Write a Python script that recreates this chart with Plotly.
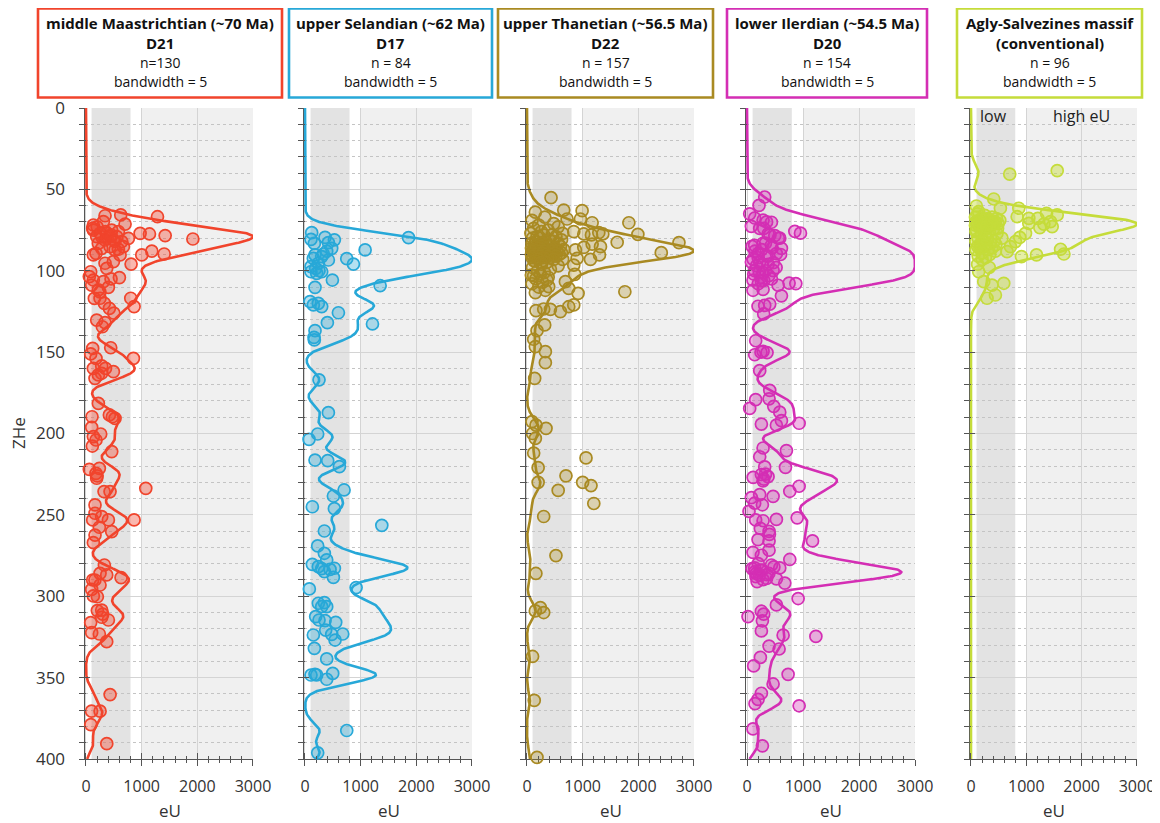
import numpy as np
import plotly.graph_objects as go

# ---- data: eU (x) and ZHe age in Ma (y) ----
# D21 middle Maastrichtian
eu_d21 = [1284, 624, 342, 132, 132, 312, 702, 462, 372, 252, 972, 1140, 1422, 1920, 762, 552, 642, 492, 222, 432,
          582, 672, 180, 132, 282, 1002, 1182, 1404, 492, 342, 810, 372, 84, 60, 132, 600, 312, 102, 402, 222,
          252, 804, 864, 420, 192, 342, 294, 120, 444,
          432, 582, 342, 612, 522, 192,
          84, 852, 180, 132, 282, 492, 222, 162, 222, 108, 420, 522, 474, 102, 132, 264, 180, 114, 462, 60,
          240, 180, 192, 1074, 324, 432, 162, 162, 282, 120, 402, 864, 240, 462, 162, 132, 330, 372, 252, 630,
          120, 252, 102, 204, 132, 282, 204, 402, 282, 84, 102, 240, 372,
          433, 100, 253, 87, 373,
          120, 200, 350, 450, 280, 380, 520,
          350, 280, 250, 150, 330, 500, 450, 200, 160, 300]
zhe_d21 = [66.8, 65.7, 66.2, 71.9, 75, 69.8, 71.3, 75, 77, 77, 77, 77.4, 78.4, 80.5, 80.1, 79, 82.1, 81.1, 83.2, 85.2,
           86.8, 85.2, 89.3, 90.3, 86.2, 90.3, 87.9, 89.7, 94.4, 95.4, 95.9, 98.5, 100.6, 103.6, 105.7, 104.2, 106.7, 108.8, 110.2, 111.8,
           116.9, 116.9, 122, 123.1, 130.3, 131.9, 134.4, 147.7, 147.3,
           79, 75.9, 81.1, 90.3, 87.2, 79,
           151.1, 153.8, 153.8, 160, 158.5, 162, 164, 166.1, 181.5, 189.7, 188.6, 190.7, 189.7, 196.2, 201.9, 200.3, 204, 207.7, 211.1, 222,
           221.4, 224.5, 227.5, 233.7, 235.7, 235.7, 243.9, 249, 251.1, 253.1, 253.1, 253.1, 257.6, 260.3, 262.4, 267.1, 280.8, 286.9, 285.9, 288.6,
           290, 293.1, 295.8, 300.3, 299.8, 308.5, 308.8, 314.6, 312.9, 316.2, 322.4, 323.2, 327.9,
           360.4, 370.6, 370.6, 378.9, 390.6,
           74, 73, 76, 78, 79, 80, 82,
           160, 163, 113, 117, 120, 126, 105, 226, 290, 311]

# D17 upper Selandian
eu_d17 = [1860, 120, 360, 528, 108, 420, 1080, 750, 870, 180, 330, 420, 240, 108, 300, 192, 492, 1350, 180, 90,
          240, 300, 600, 1212, 402, 180, 162, 168, 252, 420,
          390, 150, 300, 210, 168, 480, 108, 252,
          150, 300, 180,
          228, 72, 180, 408, 618, 702, 510, 132, 528, 1380, 348, 228, 348, 390, 132, 240, 348, 450, 528, 510,
          78, 918, 240, 348, 390, 300, 192, 252, 360, 552, 372, 150, 480, 678, 540, 168, 390, 108, 210, 498,
          390, 750, 228]
zhe_d17 = [79.7, 76.6, 79.5, 81, 80.7, 82.7, 87.2, 92.6, 95.9, 90.3, 89.7, 93.4, 95.4, 100.6, 100.6, 98.5, 105.7, 109.2, 110.2, 119,
           120, 122, 125.8, 132.7, 131.9, 136.8, 140.9, 142.5, 167, 187.2,
           88, 92.4, 91.3, 101.6, 83.2, 86.2, 97.5, 100,
           121, 283, 348,
           200.3, 203.6, 216.3, 216.7, 220.4, 234.7, 238.4, 245, 246.2, 256.4, 259.9, 269.1, 273.6, 277.7, 280.4, 281.8, 284.9, 283.5, 282.8, 288.4,
           295.5, 294.7, 304.3, 303.9, 306.4, 306.4, 312.5, 314.6, 315, 316, 320.8, 323.8, 323.4, 323.2, 326.9, 332, 338.5, 348.4, 348.4, 347.4,
           351, 382.5, 396.2]

# D22 upper Thanetian
eu_d22 = [432, 990, 1830, 1992, 2730, 2412, 1620, 1362, 1290, 1170, 960, 720, 660, 840, 1020, 1158, 1170, 1320, 1302, 1140,
          1020, 870, 900, 840, 858, 690, 750, 918, 1758, 150, 390, 78, 360, 162, 300, 420, 600, 750, 840, 318,
          180, 120, 150, 330, 330, 138, 90, 162, 342,
          100, 150, 1060, 200, 700, 1000, 1150, 560, 1200, 200, 520, 160, 240, 150, 300, 100, 130, 180, 120, 300,
          150, 320, 90, 480, 210, 560, 120, 380, 260, 640, 70, 300, 450, 180, 520, 240, 100, 400, 620, 330,
          160, 470, 280, 90, 560, 200, 350, 130, 430, 250, 600, 80, 310, 190, 500, 140, 420, 270, 660, 110,
          360, 230, 540, 90, 300, 460, 170, 390, 620, 130, 260, 500, 80, 340, 210, 580, 150, 440, 290, 110,
          370, 230, 520, 170, 90, 410, 300, 640, 200, 480, 130, 350, 260, 560, 100, 420, 190, 310, 240, 120,
          380, 160, 280, 90, 210, 330, 140, 250]
zhe_d22 = [55.1, 63.1, 70.5, 77.6, 82.7, 88.9, 82.5, 77.4, 76.6, 70.5, 68.2, 68.2, 62.7, 76, 77.4, 78, 83.6, 85.2, 90.3, 93,
           85.6, 87.2, 92.4, 96.5, 102.2, 106.7, 110.8, 113.9, 112.9, 113.5, 109.8, 102.6, 105.7, 124.5, 123.5, 123.7, 125.1, 122.1, 121, 133.3,
           136.8, 142.1, 146.6, 149.7, 156.5, 166.1, 192.7, 194.8, 196.8,
           200, 203, 215, 221, 226, 230, 232, 235, 243, 230, 275, 286, 307, 309, 310, 337, 364, 399, 212, 251,
           64, 67, 69, 71, 72, 73, 74, 75, 76, 77, 77, 78, 78, 79, 79, 80, 80, 81, 81, 82,
           82, 82, 83, 83, 83, 84, 84, 84, 85, 85, 85, 86, 86, 86, 86, 87, 87, 87, 87, 87,
           88, 88, 88, 88, 88, 88, 89, 89, 89, 89, 89, 89, 90, 90, 90, 90, 90, 90, 91, 91,
           91, 91, 91, 92, 92, 92, 92, 93, 93, 93, 94, 95, 96, 97, 98, 99, 100, 101, 102, 103,
           104, 105, 107, 108, 110, 112, 94, 95]

# D20 lower Ilerdian
eu_d20 = [316, 215, 48, 137, 287, 436, 78, 227, 376, 496, 585, 854, 955, 137, 287, 436, 615, 197, 346, 525,
          78, 227, 376, 137, 287, 466, 107, 257, 436, 555, 752, 872, 107, 287, 615, 197, 316, 406, 298, 155,
          137, 287, 358, 227, 406, 155, 394, 48, 478, 585, 615, 525, 257, 931, 287, 227, 704, 687, 316, 257,
          376, 287, 466, 931, 764, 227, 78, 275, 137, 36, 155, 287, 525, 896, 239, 394, 197, 394, 1170, 107,
          257, 394, 764, 137, 239, 436, 585, 287, 525, 675, 358, 167, 913, 525, 257, 18, 298, 275, 257, 645,
          1230, 573, 394, 239, 119, 734, 466, 257, 143, 197, 931, 107, 275,
          350, 300, 410, 560, 330, 90, 450, 260, 140, 600, 380, 200, 110, 470,
          280, 170, 520, 330, 220, 120, 390, 250, 300, 200, 250, 400,
          110, 330, 200, 480, 90, 270, 140, 390, 220, 160,
          350, 180, 300]
zhe_d20 = [54.7, 59.8, 65, 67.6, 68.9, 70.2, 72.7, 74, 77.4, 78.4, 80, 75.8, 76.9, 84.4, 83.1, 84.4, 86.2, 89.5, 90.8, 89.5,
           94.7, 94.7, 96, 99.9, 101.2, 99.9, 105.8, 106.3, 105, 108.9, 107.6, 107.9, 112, 111.5, 115.4, 121.8, 121.3, 120.5, 126.5, 143,
           151.6, 149.5, 150.3, 161.4, 173.5, 179.2, 178.7, 184.6, 183.3, 186.9, 192.1, 194.9, 194.2, 193.7, 208.9, 214.3, 210.5, 220.8, 220.5, 225.2,
           226.5, 229.1, 238.6, 232.4, 235.5, 237.6, 239.4, 243.8, 242.8, 247.9, 253.1, 253.6, 252.8, 251.8, 258.3, 260.1, 265.2, 266, 266, 273,
           274.8, 271.7, 277.4, 282.6, 284.1, 280.8, 282.6, 289.8, 289.3, 291.9, 286.7, 285.9, 301.4, 305.3, 309.2, 312.5, 311, 315.1, 321.3, 323.9,
           324.7, 332.4, 330.6, 337.6, 342.8, 348, 353.9, 359.6, 366, 363.4, 367.3, 381.5, 391.9,
           70, 74, 78, 80, 83, 85, 86, 87, 88, 90, 91, 92, 93, 95,
           96, 97, 98, 100, 101, 102, 103, 104, 106, 108, 150, 262, 227, 225,
           280, 282, 283, 284, 285, 286, 287, 288, 289, 291,
           228, 232, 231]

# Agly-Salvezines massif (conventional)
eu_agly = [700, 1558, 411, 97, 139, 531, 864, 1365, 1558, 834, 1045, 1208, 1437, 1317, 1045, 1244, 1467, 985, 882, 803,
           713, 652, 912, 1184, 1619, 1679, 139, 230, 380, 592, 290, 441, 169,
           120, 250, 80, 380, 190, 460, 300, 140, 220, 520, 90, 340, 170, 430, 260, 110, 490, 200, 360, 80,
           280, 150, 410, 230, 100, 330, 470, 190, 260, 560, 130, 300, 210, 420, 90, 350, 180, 270, 450, 120,
           240, 380, 160, 310, 90, 440, 200, 340, 130, 260, 100, 410, 290, 170, 480, 220, 90, 350, 150, 280,
           200, 120, 330]
zhe_agly = [40.6, 38.5, 55.9, 60.2, 63.7, 61.6, 61.6, 64.7, 65.7, 66.8, 67.8, 67.8, 69.8, 71.3, 70.9, 73.5, 72.9, 77, 79.5, 82.1,
            85.2, 88.3, 91.3, 90.3, 86.8, 89.7, 100.6, 106.7, 108.8, 107.7, 116.9, 114.9, 84.2,
            65, 66, 67, 67, 68, 68, 68, 69, 69, 69, 70, 70, 70, 70, 71, 71, 71, 72, 72, 72,
            73, 73, 74, 74, 75, 76, 77, 78, 79, 80, 80, 81, 81, 82, 82, 83, 83, 84, 84, 85,
            85, 86, 86, 87, 87, 88, 89, 90, 91, 92, 70, 71, 72, 73, 74, 75, 76, 69, 71, 73,
            93, 96, 98]

titles = [("middle Maastrichtian (~70 Ma)", "D21", "n=130"),
          ("upper Selandian (~62 Ma)", "D17", "n = 84"),
          ("upper Thanetian (~56.5 Ma)", "D22", "n = 157"),
          ("lower Ilerdian (~54.5 Ma)", "D20", "n = 154"),
          ("Agly-Salvezines massif", "(conventional)", "n = 96")]
bandwidth = 5

colors = ['#f1442c', '#27a8d8', '#a98a22', '#d42eb4', '#c5dc3a']
fills = ['rgba(241,68,44,0.38)', 'rgba(39,168,216,0.35)', 'rgba(169,138,34,0.3)',
         'rgba(212,46,180,0.35)', 'rgba(197,220,58,0.45)']
series = [(eu_d21, zhe_d21), (eu_d17, zhe_d17), (eu_d22, zhe_d22), (eu_d20, zhe_d20), (eu_agly, zhe_agly)]

# the page body adds an 8 px margin, so the figure is 8 px smaller than the window
OFF = 8
W, H = 1160 - OFF, 823 - OFF
x0_px = [86, 305, 527, 747, 971]       # screen pixel of eU = 0 in each panel
x3k_px = [253, 472, 694, 915, 1137]    # screen pixel of eU = 3000
boxes = [(38, 282), (289, 492), (498, 713), (727, 927), (957, 1142)]
ytop, ybot = 108, 759
FONT = "Open Sans"


def fx(px):
    return (px - OFF) / W


def fy(py):
    return 1 - (py - OFF) / H


fig = go.Figure()
grid = np.arange(0, 400.25, 0.25)
xmin = -25
tick_col = '#555'

for i, (eu, zhe) in enumerate(series):
    k = i + 1
    xa = 'x' if k == 1 else f'x{k}'
    ya = 'y' if k == 1 else f'y{k}'
    z = np.array(zhe, dtype=float)
    dens = np.exp(-0.5 * ((grid[:, None] - z[None, :]) / bandwidth) ** 2).sum(axis=1)
    dens = dens / dens.max() * 3000

    fig.add_trace(go.Scatter(x=dens, y=grid, mode='lines', line=dict(color=colors[i], width=2.6),
                             xaxis=xa, yaxis=ya, hoverinfo='skip', showlegend=False))
    fig.add_trace(go.Scatter(x=eu, y=zhe, mode='markers', cliponaxis=False,
                             marker=dict(size=12, color=fills[i], line=dict(color=colors[i], width=1.7)),
                             xaxis=xa, yaxis=ya, showlegend=False))

    ppu = (x3k_px[i] - x0_px[i]) / 3000
    left = x0_px[i] + xmin * ppu
    axx = dict(domain=[fx(left), fx(x3k_px[i])], range=[xmin, 3000], anchor=ya, automargin=False,
               tickvals=[0, 1000, 2000, 3000], ticks='outside', ticklen=6, tickcolor=tick_col,
               minor=dict(dtick=200, tick0=0, ticks='outside', ticklen=3, tickcolor=tick_col, showgrid=False),
               showgrid=True, gridcolor='#d4d4d4', gridwidth=1, zeroline=False,
               showline=True, linecolor=tick_col, linewidth=1.2, layer='below traces',
               tickfont=dict(family=FONT, size=16, color='#333'), ticklabelstandoff=7)
    axy = dict(domain=[fy(ybot), fy(ytop)], range=[400, 0], anchor=xa, automargin=False,
               dtick=50, tick0=0, ticks='outside', ticklen=5, tickcolor=tick_col,
               minor=dict(dtick=10, ticks='outside', ticklen=5, tickcolor=tick_col,
                          showgrid=True, gridcolor='#c4c4c4', griddash='dot', gridwidth=1),
               showgrid=True, gridcolor='#d4d4d4', gridwidth=1, zeroline=False,
               showline=True, linecolor=tick_col, linewidth=1.2, layer='below traces',
               showticklabels=(k == 1), tickfont=dict(family=FONT, size=17, color='#333'),
               ticklabelstandoff=10)
    # twin axes carry the inner half of the ticks so they cross the axis line
    kx, ky = k + 5, k + 5
    axx2 = dict(overlaying=xa, range=[xmin, 3000], anchor=f'y{ky}', automargin=False,
                tickvals=[0, 1000, 2000, 3000], ticks='inside', ticklen=6, tickcolor=tick_col,
                minor=dict(dtick=200, tick0=0, ticks='inside', ticklen=3, tickcolor=tick_col, showgrid=False),
                showgrid=False, zeroline=False, showline=False, showticklabels=False)
    axy2 = dict(overlaying=ya, range=[400, 0], anchor=f'x{kx}', automargin=False,
                dtick=50, tick0=0, ticks='inside', ticklen=5, tickcolor=tick_col,
                minor=dict(dtick=10, ticks='inside', ticklen=1, tickcolor=tick_col, showgrid=False),
                showgrid=False, zeroline=False, showline=False, showticklabels=False)
    fig.update_layout({('xaxis' if k == 1 else f'xaxis{k}'): axx,
                       ('yaxis' if k == 1 else f'yaxis{k}'): axy,
                       f'xaxis{kx}': axx2, f'yaxis{ky}': axy2})
    fig.add_trace(go.Scatter(x=[None], y=[None], xaxis=f'x{kx}', yaxis=f'y{ky}',
                             mode='markers', hoverinfo='skip', showlegend=False))

    # background bands: low eU (dark) and high eU (light)
    fig.add_shape(type='rect', xref=xa, yref=f'{ya} domain', x0=100, x1=800, y0=0, y1=1,
                  fillcolor='#e3e3e3', line_width=0, layer='below')
    fig.add_shape(type='rect', xref=xa, yref=f'{ya} domain', x0=1000, x1=3000, y0=0, y1=1,
                  fillcolor='#f0f0f0', line_width=0, layer='below')

    # title box
    bx0, bx1 = boxes[i]
    fig.add_shape(type='rect', xref='paper', yref='paper', x0=fx(bx0), x1=fx(bx1), y0=fy(97.5), y1=fy(8.5),
                  line=dict(color=colors[i], width=2.6), fillcolor='white', layer='above')
    cx = fx((bx0 + bx1) / 2)
    t1, t2, t3 = titles[i]
    for txt, py, bold in [(t1, 22.7, True), (t2, 42.7, True), (t3, 62.7, False), (f"bandwidth = {bandwidth}", 81.7, False)]:
        fig.add_annotation(x=cx, y=fy(py), xref='paper', yref='paper', showarrow=False,
                           text=f"<b>{txt}</b>" if bold else txt, xanchor='center', yanchor='middle',
                           font=dict(family=FONT, size=15 if bold else 14, color='#111'))

    # x axis title
    fig.add_annotation(x=fx((x0_px[i] + x3k_px[i]) / 2), y=fy(810), xref='paper', yref='paper',
                       showarrow=False, text='eU', font=dict(family=FONT, size=17, color='#333'),
                       xanchor='center', yanchor='middle')

# y axis title
fig.add_annotation(x=fx(18), y=fy(433), xref='paper', yref='paper', showarrow=False, text='ZHe',
                   textangle=-90, font=dict(family=FONT, size=17, color='#333'),
                   xanchor='center', yanchor='middle')
# low / high eU labels in last panel
fig.add_annotation(x=400, y=5, xref='x5', yref='y5', showarrow=False, text='low',
                   font=dict(family=FONT, size=16, color='#222'), yanchor='middle')
fig.add_annotation(x=2000, y=5, xref='x5', yref='y5', showarrow=False, text='high eU',
                   font=dict(family=FONT, size=16, color='#222'), yanchor='middle')

fig.update_layout(width=W, height=H, margin=dict(l=0, r=0, t=0, b=0, pad=0, autoexpand=False),
                  paper_bgcolor='white', plot_bgcolor='white', showlegend=False)

fig.write_html("out.html")
